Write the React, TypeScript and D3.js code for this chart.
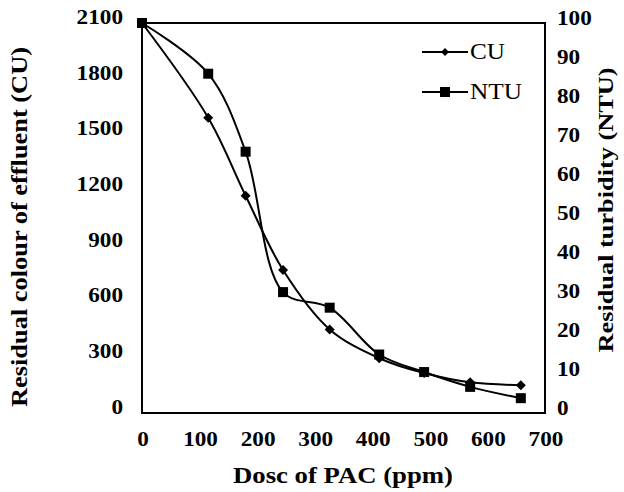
import React from "react";
import * as d3 from "d3";

const doses = [0, 115, 180, 245, 326, 412, 490, 570, 658];
const cuValues = [2100, 1590, 1170, 770, 450, 295, 215, 165, 150];
const ntuValues = [100, 87, 67, 31, 27, 15, 10.5, 6.7, 3.8];
const leftTicks = [0, 300, 600, 900, 1200, 1500, 1800, 2100];
const rightTicks = [0, 10, 20, 30, 40, 50, 60, 70, 80, 90, 100];
const xTicks = [0, 100, 200, 300, 400, 500, 600, 700];
const seriesNames = ["CU", "NTU"];

const W = 624, H = 492;
const L = 142, R = 545, T = 23, B = 413;
const FONT = "'Liberation Serif', 'Times New Roman', serif";
const DIGIT = 11.6;

export default function App() {
  const x = d3.scaleLinear().domain([0, 700]).range([L, R]);
  const yL = d3.scaleLinear().domain([0, 2100]).range([B, T]);
  const yR = d3.scaleLinear().domain([0, 100]).range([B, T]);
  const curve = d3.curveCatmullRom.alpha(0.5);
  const cuLine = d3.line<number>().x((_, i) => x(doses[i])).y(d => yL(d)).curve(curve);
  const ntuLine = d3.line<number>().x((_, i) => x(doses[i])).y(d => yR(d)).curve(curve);
  const diamond = (cx: number, cy: number, s: number) =>
    `M${cx},${cy - s}L${cx + s},${cy}L${cx},${cy + s}L${cx - s},${cy}Z`;
  const tl = (t: number) => String(t).length * DIGIT;

  return (
    <svg width={W} height={H} style={{ position: "absolute", left: 0, top: 0, background: "#fff" }}>
      <rect x={0} y={0} width={W} height={H} fill="#fff" />
      <rect x={L} y={T} width={R - L} height={B - T} fill="none" stroke="#000" strokeWidth={2} />
      <path d={cuLine(cuValues) || ""} fill="none" stroke="#000" strokeWidth={2} />
      <path d={ntuLine(ntuValues) || ""} fill="none" stroke="#000" strokeWidth={2} />
      {cuValues.map((v, i) => (
        <path key={"c" + i} d={diamond(x(doses[i]), yL(v), 5)} fill="#000" />
      ))}
      {ntuValues.map((v, i) => (
        <rect key={"n" + i} x={x(doses[i]) - 5} y={yR(v) - 5} width={10} height={10} fill="#000" />
      ))}
      <g fontFamily={FONT} fontWeight="bold" fontSize={21} fill="#000">
        {leftTicks.map(t => (
          <text key={"l" + t} x={L - 19} y={yL(t) - 4} textAnchor="end" dominantBaseline="middle"
            textLength={tl(t)} lengthAdjust="spacingAndGlyphs">{t}</text>
        ))}
        {rightTicks.map(t => (
          <text key={"r" + t} x={R + 12} y={yR(t) - 3} textAnchor="start" dominantBaseline="middle"
            textLength={tl(t)} lengthAdjust="spacingAndGlyphs">{t}</text>
        ))}
        {xTicks.map(t => (
          <text key={"x" + t} x={x(t) + 1} y={441} textAnchor="middle" dominantBaseline="middle"
            textLength={tl(t)} lengthAdjust="spacingAndGlyphs">{t}</text>
        ))}
        <text x={343} y={477} textAnchor="middle" dominantBaseline="middle" fontSize={24}
          textLength={220} lengthAdjust="spacingAndGlyphs">Dosc of PAC (ppm)</text>
        <text transform={`translate(22,227) rotate(-90)`} textAnchor="middle" dominantBaseline="middle" fontSize={23}
          textLength={360} lengthAdjust="spacingAndGlyphs">Residual colour of effluent (CU)</text>
        <text transform={`translate(608,210) rotate(-90)`} textAnchor="middle" dominantBaseline="middle" fontSize={22}
          textLength={285} lengthAdjust="spacingAndGlyphs">Residual turbidity (NTU)</text>
      </g>
      <g fontFamily={FONT} fontSize={24} fill="#000">
        {seriesNames.map((n, i) => {
          const ly = 52 + i * 40;
          return (
            <g key={n}>
              <line x1={422} x2={468} y1={ly} y2={ly} stroke="#000" strokeWidth={2} />
              {i === 0 ? (
                <path d={diamond(445, ly, 4)} fill="#000" />
              ) : (
                <rect x={440} y={ly - 5} width={10} height={10} fill="#000" />
              )}
              <text x={470} y={ly + 1} dominantBaseline="middle"
                textLength={i === 0 ? 35 : 52} lengthAdjust="spacingAndGlyphs">{n}</text>
            </g>
          );
        })}
      </g>
    </svg>
  );
}
